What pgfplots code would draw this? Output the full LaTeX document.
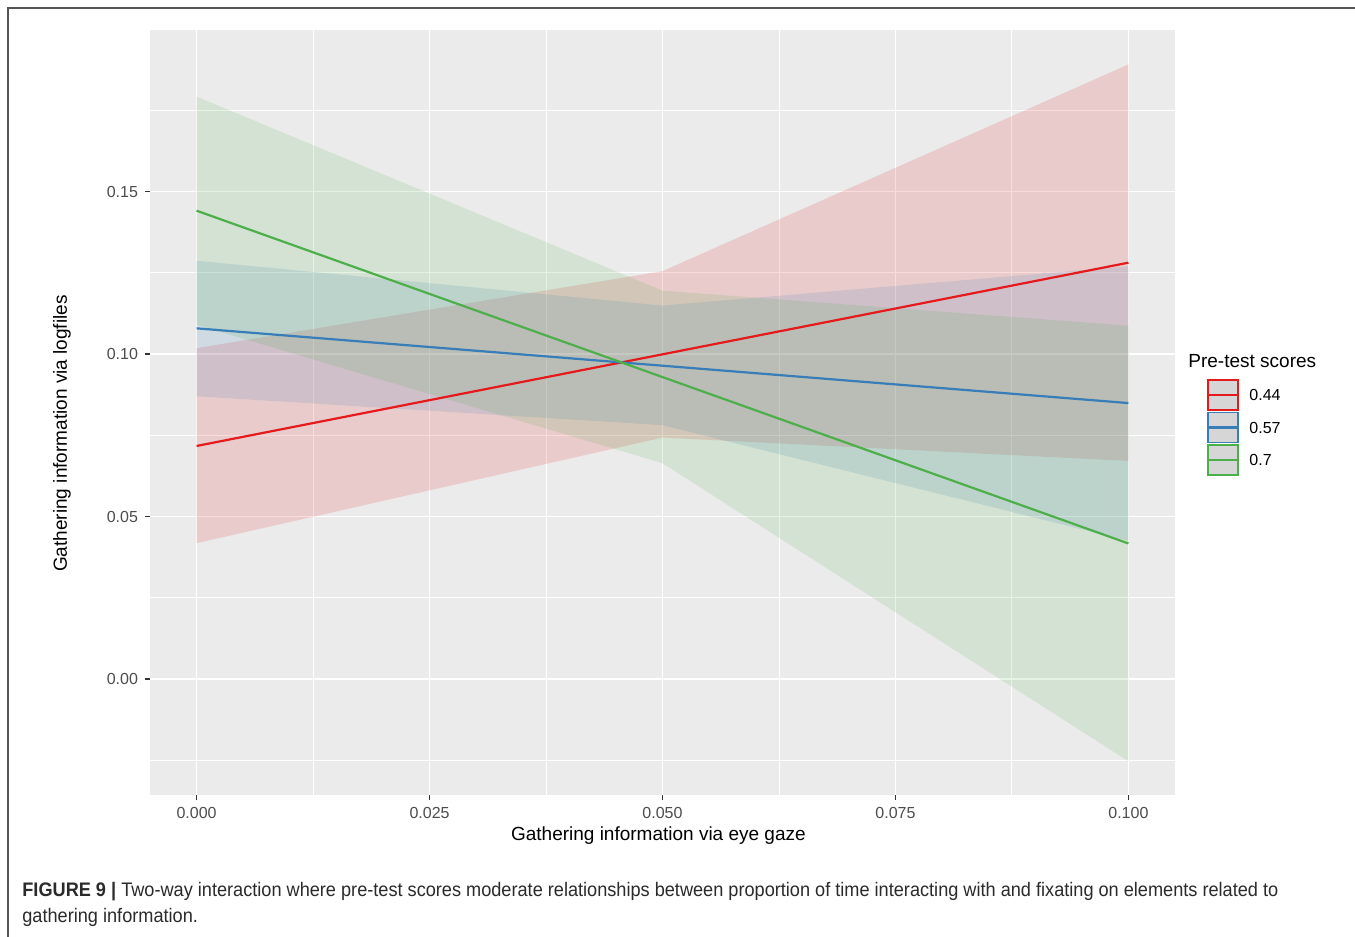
\documentclass[border=0pt]{standalone}
\usepackage{fontspec}
\setmainfont{Liberation Sans}
\newfontfamily\capfont[FakeStretch=0.926]{Liberation Sans}
\usepackage{pgfplots}
\pgfplotsset{compat=1.18}
\definecolor{c1}{HTML}{E41A1C}
\definecolor{c2}{HTML}{377EB8}
\definecolor{c3}{HTML}{4DAF4A}
\definecolor{panel}{HTML}{EBEBEB}
\definecolor{g30}{HTML}{4D4D4D}
\definecolor{g20}{HTML}{333333}
\definecolor{keyfill}{HTML}{D6D6D6}
\definecolor{frame}{HTML}{555555}
\definecolor{captext}{HTML}{2B2B2B}
\begin{document}
\begin{tikzpicture}
\begin{scope}[x=0.5pt,y=-0.5pt]
\fill[white] (0,0) rectangle (1355,937);
\useasboundingbox (0,0) rectangle (1355,937);
\draw[frame, line width=0.8pt] (8,937) -- (8,8) -- (1356,8);
\end{scope}
\begin{axis}[
  at={(75pt,-397.5pt)}, anchor=south west,
  scale only axis, width=512.5pt, height=382.5pt,
  axis background/.style={fill=panel},
  axis line style={draw=none},
  xmin=-0.005, xmax=0.105, ymin=-0.0357, ymax=0.1997,
  xtick={0,0.025,0.05,0.075,0.1},
  xticklabels={0.000,0.025,0.050,0.075,0.100},
  ytick={0,0.05,0.1,0.15},
  yticklabels={0.00,0.05,0.10,0.15},
  minor xtick={0.0125,0.0375,0.0625,0.0875},
  minor ytick={-0.025,0.025,0.075,0.125,0.175},
  grid=both,
  major grid style={white, line width=0.85pt},
  minor grid style={white, line width=0.45pt},
  tick pos=left, tick align=outside,
  major tick length=2.5pt, minor tick length=0pt,
  every tick/.style={g20, line width=0.6pt},
  tick label style={font=\fontsize{8}{9}\selectfont, text=g30},
  /pgf/number format/assume math mode=true,
  xlabel={Gathering information via eye gaze},
  ylabel={Gathering information via logfiles},
  label style={font=\fontsize{9.5}{11}\selectfont},
  xlabel style={at={(axis description cs:0.496,-0.0535)}, anchor=center},
  ylabel style={at={(axis description cs:-0.0859,0.4725)}, anchor=center},
]
% ribbons (x, upper ... lower)
\addplot[draw=none, fill=c1, fill opacity=0.15] coordinates {(0,0.1018) (0.05,0.1255) (0.1,0.1891) (0.1,0.0671) (0.05,0.0743) (0,0.0418)} --cycle;
\addplot[draw=none, fill=c2, fill opacity=0.15] coordinates {(0,0.1287) (0.05,0.1149) (0.1,0.1270) (0.1,0.0425) (0.05,0.0781) (0,0.0870)} --cycle;
\addplot[draw=none, fill=c3, fill opacity=0.15] coordinates {(0,0.1792) (0.05,0.1195) (0.1,0.1087) (0.1,-0.0253) (0.05,0.0664) (0,0.1090)} --cycle;
% lines
\addplot[c1, line width=1.1pt] coordinates {(0,0.0717) (0.1,0.1281)};
\addplot[c2, line width=1.1pt] coordinates {(0,0.1079) (0.1,0.0849)};
\addplot[c3, line width=1.1pt] coordinates {(0,0.1441) (0.1,0.0417)};
\end{axis}
\begin{scope}[x=0.5pt,y=-0.5pt]
\node[anchor=west, inner sep=0pt, font=\fontsize{9.5}{11}\selectfont] at (1188,361) {Pre-test scores};
\foreach \col/\yc/\lab in {c1/395/0.44, c2/427.5/0.57, c3/460/0.7} {
  \filldraw[fill=keyfill, draw=\col, line width=0.8pt] (1208,\yc-15) rectangle (1238,\yc+15);
  \draw[\col, line width=1.1pt] (1208,\yc) -- (1238,\yc);
  \node[anchor=west, inner sep=0pt, font=\fontsize{8}{9}\selectfont] at (1249,\yc) {\lab};
}
\node[anchor=west, inner sep=0pt, font=\capfont\fontsize{9.8}{11}\selectfont, text=captext] at (22,892) {\textbf{FIGURE 9 |} Two-way interaction where pre-test scores moderate relationships between proportion of time interacting with and fixating on elements related to};
\node[anchor=west, inner sep=0pt, font=\capfont\fontsize{9.8}{11}\selectfont, text=captext] at (22,917) {gathering information.};
\end{scope}
\end{tikzpicture}
\end{document}
